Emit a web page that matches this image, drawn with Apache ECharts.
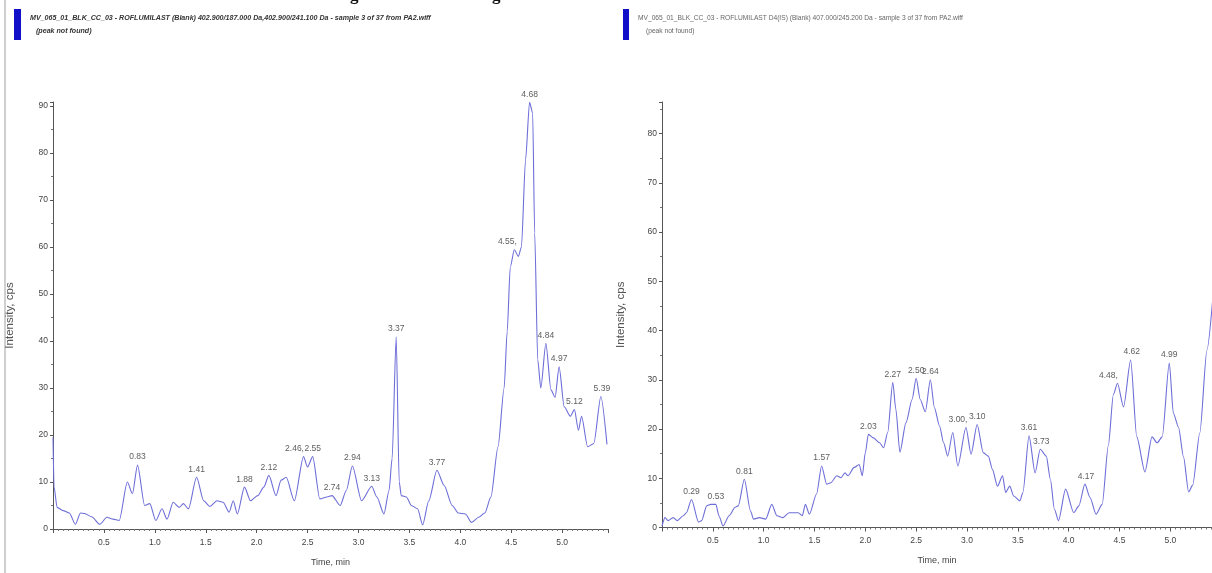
<!DOCTYPE html>
<html><head><meta charset="utf-8">
<script src="https://cdn.jsdelivr.net/npm/echarts@6/dist/echarts.min.js"></script>
<style>html,body{margin:0;padding:0;background:#fff}#c{width:1212px;height:573px}</style>
</head><body><div id="c"></div>
<script>
const leftTitle = 'MV_065_01_BLK_CC_03 - ROFLUMILAST (Blank) 402.900/187.000 Da,402.900/241.100 Da - sample 3 of 37 from PA2.wiff';
const rightTitle = 'MV_065_01_BLK_CC_03 - ROFLUMILAST D4(IS) (Blank) 407.000/245.200 Da - sample 3 of 37 from PA2.wiff';
const subTitle = '(peak not found)';
const xName = 'Time, min';
const yName = 'Intensity, cps';

// left chromatogram: [time (min), intensity (cps)]
const leftTrace = [[0,19.5],[0.01,9],[0.04,4.6],[0.10,3.9],[0.16,3.4],[0.22,1.0],[0.27,3.4],[0.31,3.3],[0.38,2.6],[0.46,1.0],[0.53,2.5],[0.59,2.1],[0.65,1.8],[0.73,10],[0.78,7.5],[0.83,13.6],[0.90,5],[0.95,5.4],[1.01,1.8],[1.07,4.3],[1.12,2.1],[1.18,5.7],[1.24,4.6],[1.28,5.4],[1.33,4.3],[1.41,11],[1.48,6],[1.54,4.8],[1.61,6],[1.67,5.7],[1.73,3.6],[1.77,6],[1.81,3.2],[1.88,8.9],[1.94,6],[2.01,7.1],[2.07,8.9],[2.12,11.4],[2.19,7.1],[2.24,10.4],[2.29,11],[2.37,6],[2.46,15.4],[2.50,13.2],[2.55,15.4],[2.62,6.4],[2.69,6.8],[2.74,7.1],[2.82,5],[2.88,8.2],[2.94,13.4],[3.03,6],[3.13,9.1],[3.18,6.8],[3.25,3.2],[3.30,8.2],[3.33,15],[3.37,40.9],[3.40,10],[3.42,7.1],[3.47,6.8],[3.52,5],[3.58,4.3],[3.63,0.9],[3.69,6],[3.77,12.5],[3.84,9.3],[3.92,5],[3.98,3.4],[4.05,3.2],[4.11,1.4],[4.18,2.5],[4.24,3.4],[4.30,6.8],[4.37,17.5],[4.43,30],[4.46,42],[4.49,55.7],[4.53,59.4],[4.57,58],[4.60,60],[4.64,78.5],[4.68,90.8],[4.71,88.5],[4.73,63],[4.76,36],[4.79,30],[4.84,39.5],[4.89,29.6],[4.93,28],[4.97,34.5],[5.02,26],[5.08,24],[5.12,25.4],[5.16,21],[5.19,24],[5.25,17.5],[5.31,18.2],[5.38,28.2],[5.44,18]];
const leftPeaks = [[0.83,13.6],[1.41,11],[1.88,8.9],[2.12,11.4],[2.46,15.4],[2.55,15.4],[2.74,7.1],[2.94,13.4],[3.13,9.1],[3.37,40.9],[3.77,12.5],[4.55,59.4],[4.68,90.8],[4.84,39.5],[4.97,34.5],[5.12,25.4],[5.39,28.2]];
const leftPeakText = ['0.83','1.41','1.88','2.12','2.46,','2.55','2.74','2.94','3.13','3.37','3.77','4.55,','4.68','4.84','4.97','5.12','5.39'];

// right chromatogram
const rightTrace = [[0,0.3],[0.03,2],[0.06,1.4],[0.11,2],[0.15,1.4],[0.21,2.4],[0.24,3],[0.29,5.7],[0.36,1.1],[0.39,1.4],[0.44,4.4],[0.48,4.7],[0.53,4.7],[0.56,2.4],[0.60,0.3],[0.66,2.4],[0.72,4.1],[0.75,4.4],[0.81,9.8],[0.87,3.4],[0.90,1.7],[0.96,2],[1.02,1.7],[1.08,4.7],[1.13,2.4],[1.19,2],[1.25,3],[1.34,3],[1.38,2.4],[1.41,4.7],[1.45,2.7],[1.52,6.8],[1.57,12.5],[1.62,8.8],[1.66,9.1],[1.72,10.5],[1.76,10.1],[1.80,11.1],[1.83,10.5],[1.89,12.2],[1.94,12.8],[1.97,10.5],[2.00,15.2],[2.03,18.9],[2.08,18.2],[2.14,17.2],[2.18,16.2],[2.22,19.3],[2.27,29.5],[2.30,24],[2.34,15.3],[2.40,21.3],[2.46,26],[2.50,30.3],[2.54,26],[2.59,23.5],[2.64,30],[2.68,24.3],[2.73,20.6],[2.77,17.2],[2.81,14.5],[2.86,19.3],[2.91,12.5],[2.99,20.3],[3.04,14.9],[3.10,20.9],[3.16,15.2],[3.21,14.5],[3.25,11.8],[3.30,8.4],[3.35,10.5],[3.38,7.1],[3.42,8.4],[3.46,6.4],[3.52,5.4],[3.55,7.1],[3.61,18.6],[3.67,11.1],[3.72,15.9],[3.78,14.5],[3.82,9.8],[3.86,3.7],[3.90,1.4],[3.97,7.8],[4.05,3],[4.10,4.4],[4.16,8.8],[4.21,6.1],[4.27,2.7],[4.33,4.7],[4.39,16.6],[4.44,27],[4.48,29.3],[4.54,24.5],[4.61,34],[4.67,18.4],[4.75,11.3],[4.82,18.4],[4.87,17.2],[4.92,18.4],[4.99,33.4],[5.03,23.2],[5.08,20.4],[5.13,14.3],[5.18,7.2],[5.22,8.6],[5.29,19.2],[5.36,36],[5.42,47]];
const rightPeaks = [[0.29,5.7],[0.53,4.7],[0.81,9.8],[1.57,12.5],[2.03,18.9],[2.27,29.5],[2.50,30.3],[2.64,30],[3.00,20.3],[3.10,20.9],[3.61,18.6],[3.73,15.9],[4.17,8.8],[4.48,29.3],[4.62,34],[4.99,33.4]];
const rightPeakText = ['0.29','0.53','0.81','1.57','2.03','2.27','2.50','2.64','3.00,','3.10','3.61','3.73','4.17','4.48,','4.62','4.99'];

const xRange = [[0, 5.45], [0, 5.41]];
const yRange = [[0, 90.85], [0, 86.4]];
const xStep = 0.5, yStep = 10;

const FONT = "'Liberation Sans', Arial, sans-serif";
const lineColor = '#6e6ed8';
const axisColor = '#555';
const textColor = '#444';

const grids = [
  {left: 53, top: 102, width: 555, height: 427},
  {left: 662, top: 102, width: 550, height: 425.5}
];

function xAx(i){
  return {type:'value', gridIndex:i, min:xRange[i][0], max:xRange[i][1], interval:xStep,
    name:xName, nameLocation:'middle', nameGap:29,
    nameTextStyle:{fontFamily:FONT, fontSize:9, color:textColor},
    axisLine:{show:true, onZero:false, lineStyle:{color:axisColor, width:1}},
    axisTick:{show:true, length:4, lineStyle:{color:axisColor}},
    minorTick:{show:true, splitNumber:10, length:2, lineStyle:{color:'#777'}},
    axisLabel:{fontFamily:FONT, fontSize:8.5, color:textColor, margin:9, showMinLabel:false, showMaxLabel:false,
      formatter:v=>v.toFixed(1)},
    splitLine:{show:false}};
}
function yAx(i, gap){
  return {type:'value', gridIndex:i, min:yRange[i][0], max:yRange[i][1], interval:yStep,
    name:yName, nameLocation:'middle', nameGap:gap, nameRotate:90,
    nameTextStyle:{fontFamily:FONT, fontSize:11.5, color:'#555'},
    axisLine:{show:true, lineStyle:{color:axisColor, width:1}},
    axisTick:{show:true, length:3, lineStyle:{color:axisColor}},
    minorTick:{show:true, splitNumber:2, length:2, lineStyle:{color:'#777'}},
    axisLabel:{fontFamily:FONT, fontSize:8.5, color:textColor, margin:5, showMaxLabel:false},
    splitLine:{show:false}};
}
function peakSeries(i, peaks, texts){
  return {type:'scatter', xAxisIndex:i, yAxisIndex:i, symbolSize:1, silent:true, z:5,
    itemStyle:{color:'rgba(0,0,0,0)'},
    data: peaks.map((p,k)=>({value:p, label:{formatter:texts[k], offset: texts[k].endsWith(',') ? [-9,0] : [0,0]}})),
    label:{show:true, position:'top', distance:3, fontFamily:FONT, fontSize:8.5, color:'#333'}};
}
function traceSeries(i, data){
  return {type:'line', xAxisIndex:i, yAxisIndex:i, data:data, showSymbol:false, smooth:0.25,
    smoothMonotone:'x', clip:true, lineStyle:{color:lineColor, width:1.1}, z:3};
}

const chart = echarts.init(document.getElementById('c'), null, {renderer:'canvas'});
chart.setOption({
  animation:false,
  backgroundColor:'#fff',
  grid:grids,
  xAxis:[xAx(0), xAx(1)],
  yAxis:[yAx(0, 37), yAx(1, 35)],
  series:[traceSeries(0,leftTrace), traceSeries(1,rightTrace),
    peakSeries(0,leftPeaks,leftPeakText), peakSeries(1,rightPeaks,rightPeakText)],
  graphic:[
    {type:'rect', shape:{x:4, y:0, width:2, height:573}, style:{fill:'#cfcfcf'}},
    {type:'rect', shape:{x:14, y:9, width:7, height:31}, style:{fill:'#1010c8'}},
    {type:'rect', shape:{x:623, y:9, width:6, height:31}, style:{fill:'#1010c8'}},
    {type:'text', x:30, y:18, style:{text:leftTitle, font:"italic bold 7.1px "+FONT, fill:'#333', verticalAlign:'middle'}},
    {type:'text', x:36, y:31, style:{text:subTitle, font:"italic bold 7.1px "+FONT, fill:'#333', verticalAlign:'middle'}},
    {type:'text', x:638, y:18, style:{text:rightTitle, font:"6.65px "+FONT, fill:'#666', verticalAlign:'middle'}},
    {type:'text', x:646, y:31, style:{text:subTitle, font:"6.65px "+FONT, fill:'#666', verticalAlign:'middle'}},
    {type:'text', x:350, y:4, style:{text:'g', font:"bold 17px 'Liberation Serif', serif", fill:'#111', verticalAlign:'bottom'}},
    {type:'text', x:492, y:4, style:{text:'g', font:"bold 17px 'Liberation Serif', serif", fill:'#111', verticalAlign:'bottom'}}
  ]
});
</script></body></html>
